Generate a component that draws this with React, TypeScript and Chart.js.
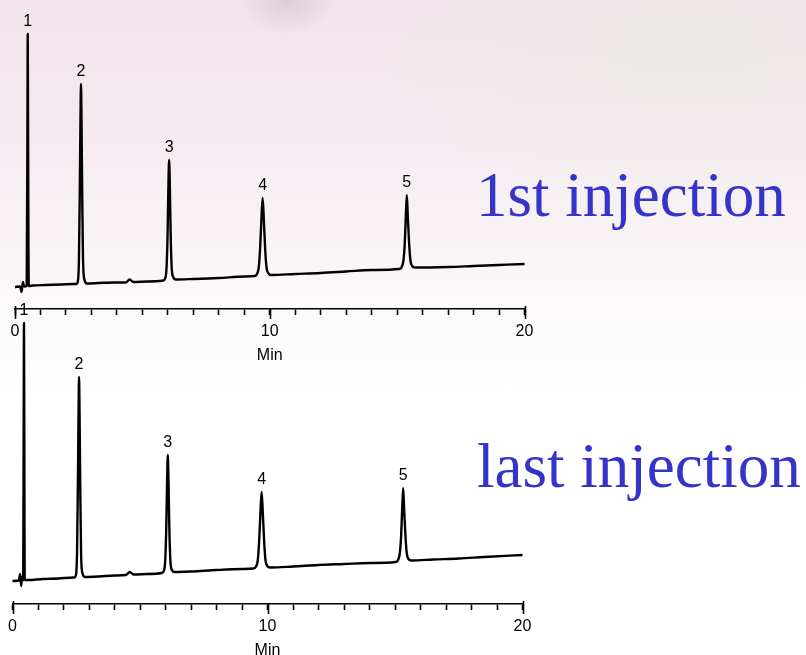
import React, { useEffect, useRef } from "react";
import { Chart, registerables } from "chart.js";

Chart.register(...registerables);

// ---------- data (time in min, detector signal in arbitrary units) ----------
const peakNames = ["1", "2", "3", "4", "5"];
const majorTicks = [0, 10, 20];

// 1st injection trace
const firstTimes = [
  0, 0.2, 0.26, 0.31, 0.36, 0.46, 0.49, 0.5, 0.51, 0.54, 0.7, 1.2, 1.8, 2.3,
  2.4, 2.47, 2.51, 2.54, 2.57, 2.59, 2.61, 2.64, 2.67, 2.72, 2.82, 3.3, 3.9,
  4.35, 4.5, 4.65, 5.2, 5.82, 5.9, 5.95, 5.99, 6.02, 6.05, 6.08, 6.11, 6.15,
  6.21, 6.32, 7, 8, 9, 9.4, 9.5, 9.57, 9.62, 9.67, 9.72, 9.77, 9.82, 9.87,
  9.94, 10.05, 11, 12, 13, 14, 15.08, 15.18, 15.25, 15.3, 15.34, 15.38, 15.42,
  15.47, 15.52, 15.59, 15.7, 17, 18, 19, 20,
];
const firstSignal = [
  22, 22.5, 17, 27, 22.5, 23, 200, 275, 200, 23, 23.5, 24, 24.5, 25, 25, 28,
  50, 110, 190, 225, 190, 110, 50, 30, 25.5, 26, 26.5, 26.5, 29.5, 27, 27.5,
  28.5, 31, 42, 75, 120, 149, 120, 75, 42, 32, 29.5, 30, 31, 32.5, 33, 35, 42,
  60, 88, 111, 88, 60, 42, 36, 34, 35, 36, 37.5, 39, 40, 42, 49, 66, 92, 114,
  92, 66, 49, 43, 41.5, 42, 43, 44, 45,
];
const firstPeakTimes = [0.5, 2.59, 6.05, 9.72, 15.38];
const firstPeakHeights = [275, 225, 149, 111, 114];

// last injection trace
const lastTimes = [
  0, 0.25, 0.3, 0.34, 0.38, 0.42, 0.44, 0.45, 0.46, 0.48, 0.6, 1.2, 1.8, 2.4,
  2.42, 2.49, 2.53, 2.56, 2.59, 2.61, 2.63, 2.66, 2.69, 2.74, 2.84, 3.4, 4.0,
  4.45, 4.6, 4.75, 5.3, 5.86, 5.94, 5.99, 6.03, 6.06, 6.09, 6.12, 6.15, 6.19,
  6.25, 6.36, 7, 8, 9, 9.45, 9.55, 9.62, 9.67, 9.72, 9.77, 9.82, 9.87, 9.92,
  9.99, 10.1, 11, 12, 13, 14, 15.02, 15.12, 15.19, 15.24, 15.28, 15.32, 15.36,
  15.41, 15.46, 15.53, 15.64, 16.5, 17.5, 18.5, 20,
];
const lastSignal = [
  23, 23.5, 30, 18, 27, 24, 200, 281, 200, 24, 24, 25, 25.5, 26.5, 26.5, 29,
  50, 110, 190, 227, 190, 110, 50, 31, 27, 27.5, 28.5, 29, 32, 29.5, 30, 31,
  33.5, 44, 76, 120, 149, 120, 76, 44, 34, 32, 32.5, 34, 35, 35.5, 37.5, 44,
  62, 89, 112, 89, 62, 44, 38, 36.5, 37.5, 39, 40, 41, 42, 44, 51, 68, 94, 116,
  94, 68, 51, 45, 43.5, 44.5, 45.5, 47, 49,
];
const lastPeakTimes = [0.45, 2.61, 6.09, 9.77, 15.32];
const lastPeakHeights = [281, 227, 149, 112, 116];

const titles = ["1st injection", "last injection"];

// ---------- chart helpers ----------
const SANS = '"Liberation Sans", Arial, Helvetica, sans-serif';
const SERIF = '"Liberation Serif", "Times New Roman", Times, serif';

function annotate(peakT: number[], peakH: number[], title: string, tx: number, ty: number) {
  return {
    id: "annotate",
    afterDraw(chart: any) {
      const { ctx, chartArea } = chart;
      const x = chart.scales.x;
      const y = chart.scales.y;
      ctx.save();
      // longer major ticks
      ctx.strokeStyle = "#000";
      ctx.lineWidth = 1.6;
      const yb = chartArea.bottom;
      majorTicks.forEach((v) => {
        const px = Math.round(x.getPixelForValue(v)) + 0.5;
        ctx.beginPath();
        ctx.moveTo(px, yb - (v === 0 || v === 20 ? 3 : 0));
        ctx.lineTo(px, yb + 10);
        ctx.stroke();
      });
      // peak labels
      ctx.fillStyle = "#000";
      ctx.font = `16px ${SANS}`;
      ctx.textAlign = "center";
      ctx.textBaseline = "alphabetic";
      peakNames.forEach((n, i) => {
        ctx.fillText(n, x.getPixelForValue(peakT[i]), y.getPixelForValue(peakH[i]) - 8.5);
      });
      // big caption
      ctx.fillStyle = "#3434c8";
      ctx.font = `63px ${SERIF}`;
      ctx.textAlign = "left";
      ctx.fillText(title, tx, ty);
      ctx.restore();
    },
  };
}

function buildChart(
  canvas: HTMLCanvasElement,
  times: number[],
  signal: number[],
  peakT: number[],
  peakH: number[],
  title: string,
  tx: number,
  ty: number,
  padding: { left: number; right: number; top: number; bottom: number }
) {
  return new Chart(canvas, {
    type: "line",
    data: {
      datasets: [
        {
          data: times.map((t, i) => ({ x: t, y: signal[i] })),
          borderColor: "#000",
          borderWidth: 2.4,
          pointRadius: 0,
          cubicInterpolationMode: "monotone",
          fill: false,
          borderJoinStyle: "round",
          borderCapStyle: "round",
        },
      ],
    },
    options: {
      responsive: false,
      animation: false,
      events: [],
      layout: { padding },
      plugins: { legend: { display: false }, tooltip: { enabled: false } },
      scales: {
        x: {
          type: "linear",
          min: 0,
          max: 20,
          border: { display: true, color: "#000", width: 1.6 },
          grid: {
            display: true,
            drawOnChartArea: false,
            drawTicks: true,
            tickLength: 6,
            tickWidth: 1.6,
            tickColor: "#000",
          },
          ticks: {
            stepSize: 1,
            autoSkip: false,
            maxRotation: 0,
            padding: 7,
            color: "#000",
            font: { family: SANS, size: 16 },
            callback: (v: any) => (majorTicks.includes(Number(v)) ? String(v) : ""),
          },
          title: {
            display: true,
            text: "Min",
            color: "#000",
            font: { family: SANS, size: 16 },
            padding: { top: -2, bottom: -6 },
          },
        },
        y: { display: false, min: 0, max: 300 },
      },
    },
    plugins: [annotate(peakT, peakH, title, tx, ty)],
  } as any);
}

export default function App() {
  const topRef = useRef<HTMLCanvasElement>(null);
  const botRef = useRef<HTMLCanvasElement>(null);

  useEffect(() => {
    const c1 = buildChart(
      topRef.current!,
      firstTimes,
      firstSignal,
      firstPeakTimes,
      firstPeakHeights,
      titles[0],
      476,
      216,
      { left: 15, right: 281.5, top: 9, bottom: 5.6 }
    );
    const c2 = buildChart(
      botRef.current!,
      lastTimes,
      lastSignal,
      lastPeakTimes,
      lastPeakHeights,
      titles[1],
      477,
      197,
      { left: 12.5, right: 283.5, top: 14, bottom: 0.6 }
    );
    return () => {
      c1.destroy();
      c2.destroy();
    };
  }, []);

  const bg = [
    "radial-gradient(ellipse 46px 32px at 287px 2px, rgba(205,192,206,0.6), rgba(205,192,206,0) 100%)",
    "radial-gradient(ellipse 320px 150px at 690px 50px, rgba(232,234,226,0.5), rgba(232,234,226,0) 100%)",
    "linear-gradient(to bottom, #efe4ea 0%, #f3eaef 18%, #f8f2f5 35%, #fcfafb 48%, #ffffff 60%, #ffffff 100%)",
  ].join(", ");

  return (
    <div
      style={{
        position: "absolute",
        left: 0,
        top: 0,
        width: 806,
        height: 655,
        overflow: "hidden",
        background: bg,
      }}
    >
      <canvas
        ref={topRef}
        width={806}
        height={365}
        style={{ position: "absolute", left: 0, top: 0, width: 806, height: 365 }}
      />
      <canvas
        ref={botRef}
        width={806}
        height={365}
        style={{ position: "absolute", left: 0, top: 290, width: 806, height: 365 }}
      />
    </div>
  );
}
